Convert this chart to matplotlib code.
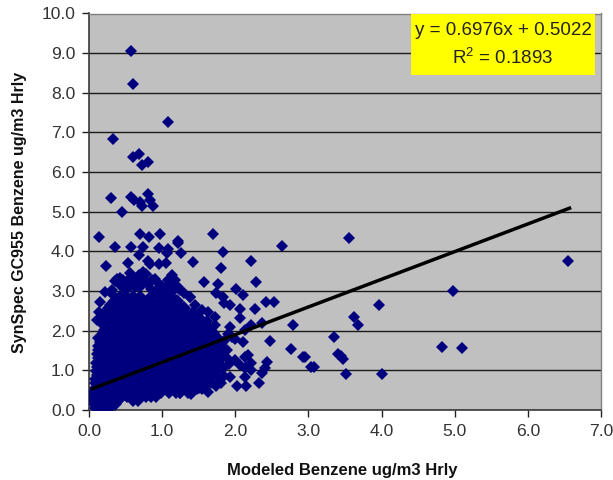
import matplotlib
matplotlib.use("Agg")
import matplotlib.pyplot as plt
from matplotlib.patches import Rectangle

plt.rcParams['font.family'] = ['Liberation Sans', 'DejaVu Sans']
plt.rcParams['mathtext.default'] = 'regular'

x_ticks = [0, 1, 2, 3, 4, 5, 6, 7]
y_ticks = [0, 1, 2, 3, 4, 5, 6, 7, 8, 9, 10]

trend_x = [0.05, 6.57]
trend_y = [0.54, 5.09]

# points that can be told apart, read one by one
outlier_x = [0.57, 0.605, 1.08, 0.33, 0.605, 0.69, 0.73, 0.81, 0.30, 0.58, 0.62, 0.70, 0.73, 0.81, 0.84, 0.87, 0.45,
             0.13, 0.70, 0.82, 0.965, 1.69, 1.22, 0.355, 0.57, 0.74, 0.69, 0.96, 1.08, 1.22, 1.26, 1.83, 2.64, 0.23,
             0.53, 0.81, 0.84, 0.96, 1.05, 1.42, 1.81, 2.22, 1.575, 1.77, 2.28, 2.01, 2.11, 1.38, 1.74, 1.83, 1.84,
             1.93, 2.42, 2.53, 2.27, 2.06, 2.06, 1.63, 1.54, 2.79, 2.22, 2.36, 2.13, 1.93, 2.48, 2.76, 2.92, 2.11,
             1.99, 2.18, 2.13, 1.99, 2.44, 2.22, 2.40, 2.36, 2.13, 2.22, 2.13, 1.93, 2.03, 2.14, 2.33, 1.63, 1.40,
             1.24, 1.74, 1.80, 1.67, 1.83, 3.56, 6.55, 4.98, 3.96, 3.62, 3.68, 3.35, 4.82, 5.10, 3.40, 3.44, 3.47,
             3.52, 4.00, 3.03, 3.07, 2.95, 1.90, 1.96, 2.06, 1.88, 1.81, 1.83, 1.70, 1.56, 1.07, 1.13, 1.08, 1.17,
             1.22, 1.24, 1.38, 0.74, 0.56, 0.42, 0.355, 0.86, 0.79, 0.63, 0.51, 0.22, 0.31, 0.33, 0.15, 0.13, 0.15,
             0.18, 0.105, 0.90, 1.08, 1.15, 0.47, 0.60, 0.66, 0.95, 1.00, 1.72, 1.78,
             0.38, 0.46, 0.52, 0.60, 0.68, 0.78, 0.72, 0.90, 0.95, 0.42, 0.50, 0.58, 0.70, 0.85, 1.00, 1.10, 1.18,
             1.30, 1.45, 1.50, 1.62, 1.72, 1.60, 1.75, 1.85, 1.88, 1.92, 1.85, 1.78, 1.68, 1.60, 1.50]
outlier_y = [9.06, 8.21, 7.27, 6.84, 6.39, 6.45, 6.18, 6.25, 5.34, 5.38, 5.30, 5.25, 5.15, 5.45, 5.30, 5.15, 4.99,
             4.37, 4.43, 4.37, 4.43, 4.43, 4.27, 4.10, 4.10, 4.12, 3.91, 4.08, 4.05, 4.22, 3.97, 3.99, 4.14, 3.63,
             3.70, 3.77, 3.67, 3.67, 3.70, 3.74, 3.59, 3.77, 3.24, 3.17, 3.24, 3.05, 2.90, 2.84, 2.94, 2.86, 2.70,
             2.65, 2.72, 2.72, 2.54, 2.54, 2.31, 2.48, 2.52, 2.14, 2.14, 2.19, 2.02, 2.09, 1.74, 1.53, 1.34, 1.72,
             1.78, 1.39, 1.34, 1.26, 1.20, 1.18, 1.05, 0.93, 1.06, 1.00, 0.84, 0.84, 0.61, 0.61, 0.67, 0.46, 0.40,
             0.44, 0.61, 0.67, 0.67, 1.05, 4.33, 3.77, 3.01, 2.65, 2.35, 2.14, 1.84, 1.60, 1.56, 1.40, 1.36, 1.29,
             0.90, 0.90, 1.08, 1.08, 1.33, 1.92, 1.85, 1.13, 1.51, 1.34, 1.05, 0.95, 0.59, 3.96, 3.40, 3.28, 3.28,
             3.11, 3.03, 2.86, 3.49, 3.45, 3.32, 3.26, 3.28, 3.20, 3.11, 3.03, 2.98, 3.03, 2.90, 2.73, 2.48, 2.27,
             2.20, 2.27, 2.94, 2.98, 2.73, 3.20, 3.28, 3.15, 3.05, 3.12, 2.14, 1.70,
             3.30, 3.28, 3.25, 3.30, 3.40, 3.42, 3.30, 3.30, 3.20, 3.15, 3.10, 3.15, 3.10, 3.05, 3.10, 3.15, 3.05,
             2.95, 2.65, 2.30, 2.25, 2.35, 2.05, 1.85, 1.75, 1.30, 1.15, 0.85, 0.80, 0.80, 0.65, 0.55]

# solid part of the cloud, one list of x per height
dense_y = [0.06, 0.15, 0.25, 0.36, 0.46, 0.56, 0.67, 0.77, 0.88, 0.98, 1.09, 1.19, 1.30, 1.40, 1.51, 1.61, 1.72,
           1.82, 1.93, 2.03, 2.14, 2.24, 2.35, 2.45, 2.56, 2.66, 2.76, 2.86]
dense_x = [
    [0.10, 0.18, 0.27],
    [0.08, 0.15, 0.22, 0.30, 0.35],
    [0.07, 0.14, 0.20, 0.27, 0.33, 0.40, 0.60, 0.67],
    [0.06, 0.13, 0.19, 0.26, 0.33, 0.39, 0.45, 0.52, 0.58, 0.65, 0.71, 0.78, 0.85, 0.92],
    [0.07, 0.14, 0.21, 0.30, 0.39, 0.49, 0.59, 0.69, 0.79, 0.89, 0.99, 1.09, 1.19, 1.25, 1.36],
    [0.09, 0.19, 0.29, 0.39, 0.49, 0.59, 0.69, 0.79, 0.89, 0.99, 1.09, 1.19, 1.29, 1.39, 1.47, 1.55],
    [0.09, 0.16, 0.28, 0.40, 0.52, 0.64, 0.76, 0.88, 1.00, 1.12, 1.24, 1.36, 1.48, 1.58],
    [0.10, 0.22, 0.34, 0.46, 0.58, 0.70, 0.82, 0.94, 1.06, 1.18, 1.30, 1.42, 1.54, 1.63],
    [0.12, 0.16, 0.28, 0.40, 0.52, 0.64, 0.76, 0.88, 1.00, 1.12, 1.24, 1.36, 1.48, 1.60, 1.70],
    [0.11, 0.22, 0.34, 0.46, 0.58, 0.70, 0.82, 0.94, 1.06, 1.18, 1.30, 1.42, 1.54, 1.65, 1.74],
    [0.12, 0.16, 0.28, 0.40, 0.52, 0.64, 0.76, 0.88, 1.00, 1.12, 1.24, 1.36, 1.48, 1.60, 1.72],
    [0.11, 0.22, 0.34, 0.46, 0.58, 0.70, 0.82, 0.94, 1.06, 1.18, 1.30, 1.42, 1.54, 1.66, 1.76],
    [0.13, 0.16, 0.28, 0.40, 0.52, 0.64, 0.76, 0.88, 1.00, 1.12, 1.24, 1.36, 1.48, 1.60, 1.72, 1.80],
    [0.12, 0.22, 0.34, 0.46, 0.58, 0.70, 0.82, 0.94, 1.06, 1.18, 1.30, 1.42, 1.54, 1.66, 1.78],
    [0.13, 0.16, 0.28, 0.40, 0.52, 0.64, 0.76, 0.88, 1.00, 1.12, 1.24, 1.36, 1.48, 1.60, 1.72, 1.83],
    [0.13, 0.22, 0.34, 0.46, 0.58, 0.70, 0.82, 0.94, 1.06, 1.18, 1.30, 1.42, 1.54, 1.66, 1.78],
    [0.16, 0.28, 0.40, 0.52, 0.64, 0.76, 0.88, 1.00, 1.12, 1.24, 1.36, 1.48, 1.60, 1.72],
    [0.13, 0.22, 0.34, 0.46, 0.58, 0.70, 0.82, 0.94, 1.06, 1.18, 1.30, 1.42, 1.54, 1.66],
    [0.20, 0.28, 0.40, 0.52, 0.64, 0.76, 0.88, 1.00, 1.12, 1.24, 1.36, 1.48, 1.60, 1.70],
    [0.22, 0.34, 0.46, 0.58, 0.70, 0.82, 0.94, 1.06, 1.18, 1.30, 1.42, 1.54, 1.66],
    [0.20, 0.28, 0.40, 0.52, 0.64, 0.76, 0.88, 1.00, 1.12, 1.24, 1.36, 1.48, 1.60],
    [0.22, 0.34, 0.46, 0.58, 0.70, 0.82, 0.94, 1.06, 1.18, 1.30, 1.42, 1.54],
    [0.20, 0.28, 0.40, 0.52, 0.64, 0.76, 0.88, 1.00, 1.12, 1.24, 1.36, 1.48],
    [0.22, 0.34, 0.46, 0.58, 0.70, 0.82, 0.94, 1.06, 1.18, 1.30, 1.42],
    [0.28, 0.40, 0.52, 0.64, 0.76, 0.88, 1.00, 1.12, 1.24, 1.30],
    [0.30, 0.42, 0.54, 0.66, 0.78, 0.90, 1.02, 1.14],
    [0.36, 0.48, 0.60, 0.72, 0.84, 0.98, 1.12, 1.20],
    [0.42, 0.50, 0.60, 0.70, 0.85, 1.00, 1.12],
]

cloud_x = []
cloud_y = []
for height, xs in zip(dense_y, dense_x):
    cloud_x += xs
    cloud_y += [height] * len(xs)

fig = plt.figure(figsize=(6.13, 4.8), dpi=100)
ax = fig.add_axes([89 / 613, 1 - 410 / 480, 512 / 613, 396.5 / 480])
ax.set_facecolor('#c0c0c0')

navy = '#00007f'
ax.plot(cloud_x, cloud_y, linestyle='none', marker='D', markersize=7, markeredgewidth=0, color=navy, zorder=3)
ax.plot(outlier_x, outlier_y, linestyle='none', marker='D', markersize=6, markeredgewidth=0, color=navy, zorder=3)
ax.plot(trend_x, trend_y, color='black', linewidth=2.5, zorder=4)

ax.set_xlim(0, 7)
ax.set_ylim(0, 10)
ax.set_xticks(x_ticks)
ax.set_yticks(y_ticks)
ax.set_xticklabels(['%.1f' % v for v in x_ticks])
ax.set_yticklabels(['%.1f' % v for v in y_ticks])
ax.tick_params(axis='both', length=5, width=1, color='#222222', labelsize=12.6, labelcolor='#333333', pad=5)
ax.grid(axis='y', color='#1a1a1a', linewidth=1, zorder=1)
ax.set_axisbelow(True)

for side in ['top', 'right']:
    ax.spines[side].set_color('#808080')
    ax.spines[side].set_linewidth(1)
    ax.spines[side].set_zorder(2)
for side in ['left', 'bottom']:
    ax.spines[side].set_color('#3a3a3a')
    ax.spines[side].set_linewidth(1.2)
    ax.spines[side].set_zorder(2)

box = Rectangle((4.40, 8.45), 2.52, 1.55, facecolor='#ffff00', edgecolor='none', zorder=5)
ax.add_patch(box)
ax.text(5.66, 9.57, 'y = 0.6976x + 0.5022', ha='center', va='center', fontsize=13.5, color='#222222', zorder=6)
ax.text(5.66, 8.88, 'R$^2$ = 0.1893', ha='center', va='center', fontsize=13.5, color='#222222', zorder=6)

fig.text(342 / 613, 1 - 470 / 480, 'Modeled Benzene ug/m3 Hrly', ha='center', va='center', fontsize=12,
         fontweight='bold', color='#111111')
fig.text(20 / 613, 1 - 212 / 480, 'SynSpec GC955 Benzene ug/m3 Hrly', ha='center', va='center', rotation=90,
         fontsize=11.5, fontweight='bold', color='#111111')

fig.savefig('out.png', dpi=100)
